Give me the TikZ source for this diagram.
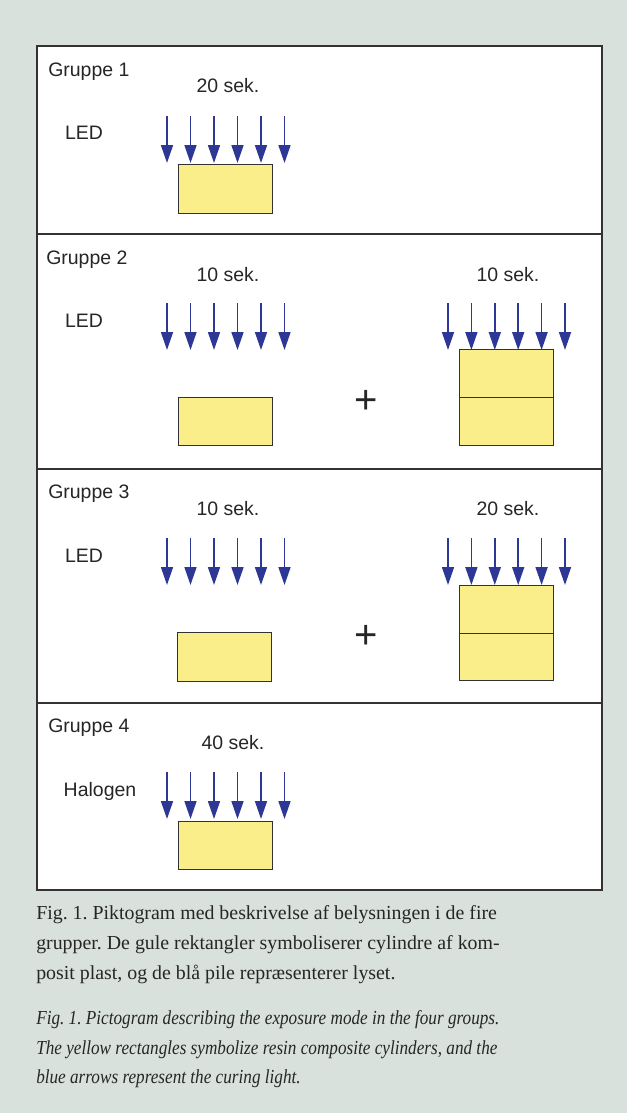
\documentclass[tikz,border=0pt]{standalone}
\usepackage{fontspec}
\setmainfont{Liberation Serif}
\setsansfont{Liberation Sans}
\newfontfamily\capitalic{Liberation Serif}[FakeStretch=0.865]
\usetikzlibrary{arrows.meta}

\definecolor{panel}{RGB}{216,225,220}
\definecolor{rayblue}{RGB}{45,55,150}
\definecolor{resinyellow}{RGB}{249,238,138}
\definecolor{frame}{RGB}{50,50,50}

\begin{document}
\frenchspacing
\begin{tikzpicture}[x=.75pt,y=-.75pt,
  ray/.style={-{Triangle[width=9pt,length=13.5pt]},draw=rayblue,line width=1.3pt},
  resin/.style={fill=resinyellow,draw=frame,line width=.75pt},
  lbl/.style={anchor=base,inner sep=0pt,text=black!85,font=\sffamily\fontsize{14.6}{17}\selectfont},
  captxt/.style={anchor=base west,inner sep=0pt,text=black!85,font=\fontsize{14.9}{22.5}\selectfont}]
\fill[panel] (0,0) rectangle (627,1113);

% frame and the four rows
\draw[fill=white,draw=frame,line width=.9pt] (37,46) rectangle (602,890);
\draw[frame,line width=.9pt] (37,234) -- (602,234);
\draw[frame,line width=.9pt] (37,469) -- (602,469);
\draw[frame,line width=.9pt] (37,703) -- (602,703);

% light
\foreach \y in {116,303,538,772}
  \foreach \i in {0,...,5}
    \draw[ray] (167+23.5*\i,\y) -- (167+23.5*\i,\y+47);
\foreach \y in {303,538}
  \foreach \i in {0,...,5}
    \draw[ray] (448+23.4*\i,\y) -- (448+23.4*\i,\y+47);

% composite cylinders
\draw[resin] (178,164) rectangle (272,213);
\draw[resin] (178,397) rectangle (272,445);
\draw[resin] (459,349) rectangle (553,445);
\draw[frame,line width=.75pt] (459,397) -- (553,397);
\draw[resin] (177,632) rectangle (271,681);
\draw[resin] (459,585) rectangle (553,680);
\draw[frame,line width=.75pt] (459,633) -- (553,633);
\draw[resin] (178,821) rectangle (272,869);

% labels
\node[lbl,anchor=base west] (grp1) at (48,76) {Gruppe 1};
\node[lbl] (time1) at (228,93) {20 sek.};
\node[lbl] (lamp1) at (84,139) {LED};

\node[lbl,anchor=base west] (grp2) at (46,264) {Gruppe 2};
\node[lbl] (time2a) at (228,281) {10 sek.};
\node[lbl] (time2b) at (508,281) {10 sek.};
\node[lbl] (lamp2) at (84,327) {LED};
\node[lbl,anchor=center,font=\sffamily\fontsize{30}{30}\selectfont] (plus2) at (366,402) {+};

\node[lbl,anchor=base west] (grp3) at (48,498) {Gruppe 3};
\node[lbl] (time3a) at (228,515) {10 sek.};
\node[lbl] (time3b) at (508,515) {20 sek.};
\node[lbl] (lamp3) at (84,562) {LED};
\node[lbl,anchor=center,font=\sffamily\fontsize{30}{30}\selectfont] (plus3) at (366,637) {+};

\node[lbl,anchor=base west] (grp4) at (48,732) {Gruppe 4};
\node[lbl] (time4) at (233,749) {40 sek.};
\node[lbl] (lamp4) at (100,796) {Halogen};

% caption
\node[captxt] (da1) at (36,919) {Fig. 1. Piktogram med beskrivelse af belysningen i de fire};
\node[captxt] (da2) at (36,949) {grupper. De gule rektangler symboliserer cylindre af kom-};
\node[captxt] (da3) at (36,979) {posit plast, og de blå pile repræsenterer lyset.};
\node[captxt,font=\capitalic\itshape\fontsize{14.9}{22.5}\selectfont] (en1) at (36,1024) {Fig. 1. Pictogram describing the exposure mode in the four groups.};
\node[captxt,font=\capitalic\itshape\fontsize{14.9}{22.5}\selectfont] (en2) at (36,1054) {The yellow rectangles symbolize resin composite cylinders, and the};
\node[captxt,font=\capitalic\itshape\fontsize{14.9}{22.5}\selectfont] (en3) at (36,1083) {blue arrows represent the curing light.};
\end{tikzpicture}
\end{document}
